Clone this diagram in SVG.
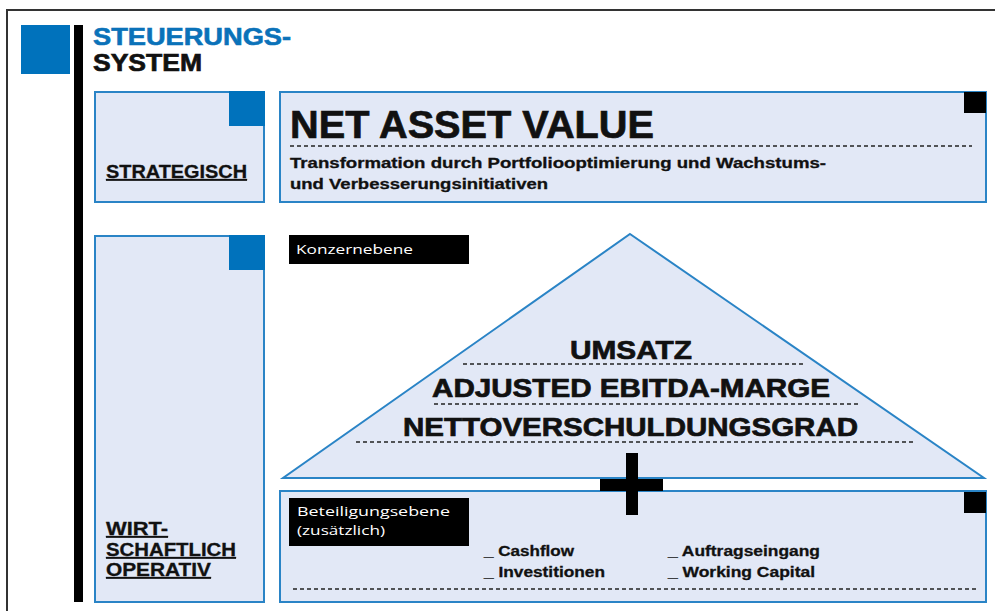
<svg xmlns="http://www.w3.org/2000/svg" width="995" height="611" viewBox="0 0 995 611">
<style>
.box{fill:#e2e8f6;stroke:#2a84c6;stroke-width:2}
.blue{fill:#0072bc}
.blk{fill:#000}
.dash{stroke:#222;stroke-width:1.3;stroke-dasharray:4 3;fill:none}
.t{font-family:"Liberation Sans",Arial,sans-serif;font-weight:bold;fill:#111}
.h{stroke:#111;stroke-width:0.7}
.hb{fill:#0a72b9;stroke:#0a72b9;stroke-width:0.6}
.s{stroke:#111;stroke-width:0.3}
.w{font-family:"Open Sans","Liberation Sans",sans-serif;fill:#fff;font-size:13px}
.u{text-decoration:underline}
</style>
<rect x="0" y="0" width="995" height="611" fill="#fff"/>
<rect x="7" y="10" width="1000" height="700" fill="none" stroke="#333" stroke-width="2"/>

<g id="header">
<rect class="blue" x="21" y="25" width="49" height="49"/>
<rect class="blk" x="74" y="25" width="9" height="577"/>
<text class="t hb" x="93" y="45" font-size="24" textLength="198" lengthAdjust="spacingAndGlyphs">STEUERUNGS-</text>
<text class="t h" x="93" y="71" font-size="24" textLength="109" lengthAdjust="spacingAndGlyphs">SYSTEM</text>
</g>

<g id="strategisch">
<rect class="box" x="95" y="92" width="169" height="110"/>
<rect class="blue" x="229" y="91" width="36" height="35"/>
<text class="t u s" x="106" y="178" font-size="18" textLength="141" lengthAdjust="spacingAndGlyphs">STRATEGISCH</text>
</g>

<g id="nav">
<rect class="box" x="280" y="92" width="706" height="110"/>
<rect class="blk" x="964" y="92" width="22" height="21"/>
<text class="t h" x="290" y="138" font-size="38" textLength="364" lengthAdjust="spacingAndGlyphs">NET ASSET VALUE</text>
<line class="dash" x1="290" y1="146" x2="972" y2="146"/>
<text class="t s" x="290" y="168" font-size="14.5" textLength="536" lengthAdjust="spacingAndGlyphs">Transformation durch Portfoliooptimierung und Wachstums-</text>
<text class="t s" x="290" y="189" font-size="14.5" textLength="258" lengthAdjust="spacingAndGlyphs">und Verbesserungsinitiativen</text>
</g>

<g id="wirtschaftlich">
<rect class="box" x="95" y="236" width="169" height="366"/>
<rect class="blue" x="229" y="235" width="36" height="35"/>
<text class="t u s" x="106" y="535" font-size="18" textLength="62" lengthAdjust="spacingAndGlyphs">WIRT-</text>
<text class="t u s" x="106" y="556" font-size="18" textLength="130" lengthAdjust="spacingAndGlyphs">SCHAFTLICH</text>
<text class="t u s" x="106" y="576" font-size="18" textLength="105" lengthAdjust="spacingAndGlyphs">OPERATIV</text>
</g>

<g id="konzern">
<polygon class="box" points="630,234 984,478 283,478"/>
<rect class="blk" x="289" y="235" width="180" height="29"/>
<text class="w" x="296" y="254" textLength="117" lengthAdjust="spacingAndGlyphs">Konzernebene</text>
<text class="t h" x="570" y="359" font-size="26" textLength="122" lengthAdjust="spacingAndGlyphs">UMSATZ</text>
<line class="dash" x1="463" y1="364" x2="805" y2="364"/>
<text class="t h" x="432" y="397" font-size="26" textLength="398" lengthAdjust="spacingAndGlyphs">ADJUSTED EBITDA-MARGE</text>
<line class="dash" x1="434" y1="404" x2="859" y2="404"/>
<text class="t h" x="403" y="436" font-size="26" textLength="455" lengthAdjust="spacingAndGlyphs">NETTOVERSCHULDUNGSGRAD</text>
<line class="dash" x1="356" y1="442" x2="914" y2="442"/>
</g>

<g id="beteiligung">
<rect class="box" x="280" y="491" width="706" height="111"/>
<rect class="blk" x="964" y="492" width="22" height="21"/>
<rect class="blk" x="289" y="498" width="180" height="48"/>
<text class="w" x="297" y="516" textLength="153" lengthAdjust="spacingAndGlyphs">Beteiligungsebene</text>
<text class="w" x="297" y="535" textLength="88" lengthAdjust="spacingAndGlyphs">(zusätzlich)</text>
<text class="t s" x="484" y="556" font-size="14.5" textLength="90" lengthAdjust="spacingAndGlyphs">_ Cashflow</text>
<text class="t s" x="484" y="577" font-size="14.5" textLength="121" lengthAdjust="spacingAndGlyphs">_ Investitionen</text>
<text class="t s" x="668" y="556" font-size="14.5" textLength="152" lengthAdjust="spacingAndGlyphs">_ Auftragseingang</text>
<text class="t s" x="668" y="577" font-size="14.5" textLength="147" lengthAdjust="spacingAndGlyphs">_ Working Capital</text>
<line class="dash" x1="293" y1="589" x2="977" y2="589"/>
</g>

<g id="plus">
<rect class="blk" x="600" y="479" width="63" height="12"/>
<rect class="blk" x="626" y="453" width="12" height="62"/>
</g>

<g id="connectors"></g>
</svg>
